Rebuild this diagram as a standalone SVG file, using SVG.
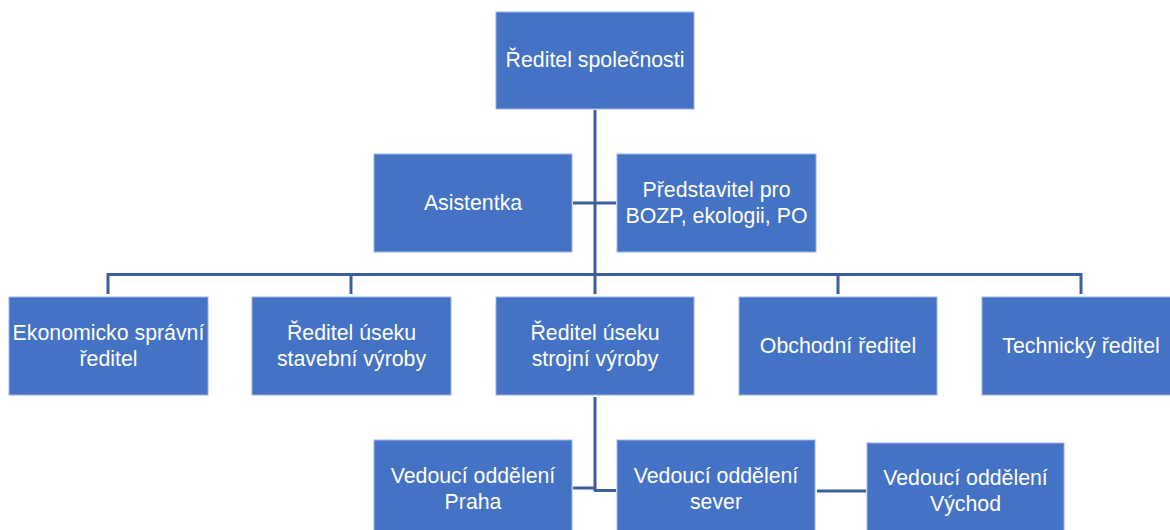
<svg xmlns="http://www.w3.org/2000/svg" width="1170" height="530" viewBox="0 0 1170 530">
<style>
.box{fill:#4472C4;stroke:#9DB4E0;stroke-width:1}
.t{font-family:"Liberation Sans",Arial,sans-serif;font-size:21.3px;fill:#ffffff;text-anchor:middle}
.c{stroke:#3A5E9E;stroke-width:3;fill:none}
</style>
<rect width="1170" height="530" fill="#ffffff"/>
<g id="connectors">
<path class="c" d="M595,110 V294"/>
<path class="c" d="M573,203 H616"/>
<path class="c" d="M108,294 V274.5 H1081 V294"/>
<path class="c" d="M351,274.5 V294"/>
<path class="c" d="M838,274.5 V294"/>
<path class="c" d="M595,397 V491"/>
<path class="c" d="M573,488 H596"/>
<path class="c" d="M594,490.5 H616"/>
<path class="c" d="M817,491 H866"/>
</g>
<g id="n-reditel">
<rect class="box" x="496" y="12" width="198" height="97"/>
<text class="t" x="595" y="67">Ředitel společnosti</text>
</g>
<g id="n-asistentka">
<rect class="box" x="374" y="154" width="198" height="98"/>
<text class="t" x="473" y="210">Asistentka</text>
</g>
<g id="n-predstavitel">
<rect class="box" x="617" y="154" width="199" height="98"/>
<text class="t" x="716.5" y="197">Představitel pro</text>
<text class="t" x="716.5" y="223">BOZP, ekologii, PO</text>
</g>
<g id="n-ekonomicky">
<rect class="box" x="9" y="297" width="199" height="98"/>
<text class="t" x="108.5" y="340">Ekonomicko správní</text>
<text class="t" x="108.5" y="366">ředitel</text>
</g>
<g id="n-stavebni">
<rect class="box" x="252" y="297" width="199" height="98"/>
<text class="t" x="351.5" y="340">Ředitel úseku</text>
<text class="t" x="351.5" y="366">stavební výroby</text>
</g>
<g id="n-strojni">
<rect class="box" x="496" y="297" width="198" height="98"/>
<text class="t" x="595" y="340">Ředitel úseku</text>
<text class="t" x="595" y="366">strojní výroby</text>
</g>
<g id="n-obchodni">
<rect class="box" x="739" y="297" width="198" height="98"/>
<text class="t" x="838" y="353">Obchodní ředitel</text>
</g>
<g id="n-technicky">
<rect class="box" x="982" y="297" width="198" height="98"/>
<text class="t" x="1081" y="353">Technický ředitel</text>
</g>
<g id="n-praha">
<rect class="box" x="374" y="440" width="198" height="98"/>
<text class="t" x="473" y="483">Vedoucí oddělení</text>
<text class="t" x="473" y="509">Praha</text>
</g>
<g id="n-sever">
<rect class="box" x="617" y="440" width="198" height="98"/>
<text class="t" x="716" y="483">Vedoucí oddělení</text>
<text class="t" x="716" y="509">sever</text>
</g>
<g id="n-vychod">
<rect class="box" x="867" y="443" width="197" height="98"/>
<text class="t" x="965.5" y="485">Vedoucí oddělení</text>
<text class="t" x="965.5" y="511">Východ</text>
</g>
</svg>
